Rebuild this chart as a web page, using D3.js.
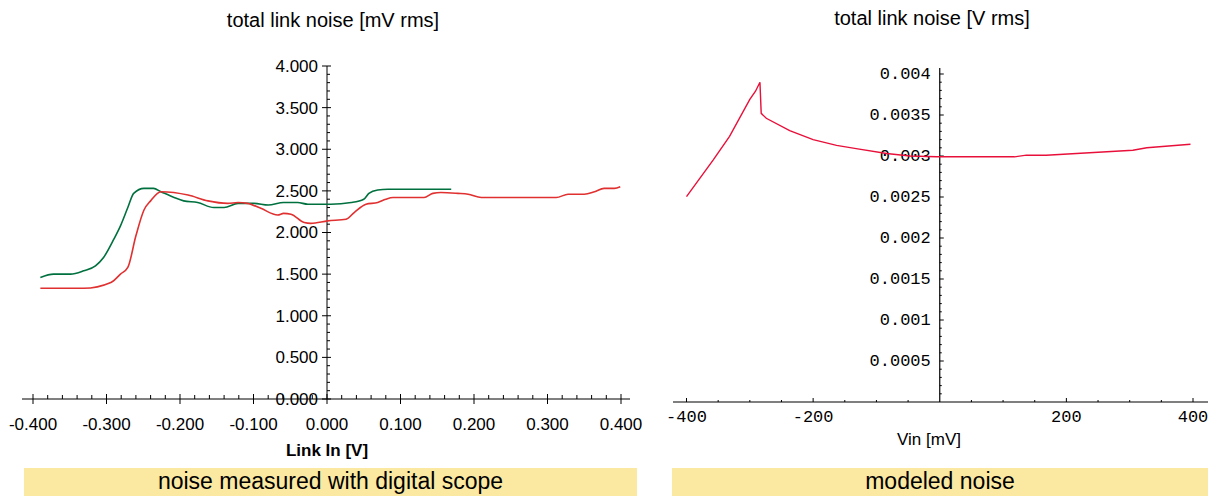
<!DOCTYPE html>
<html>
<head>
<meta charset="utf-8">
<script src="https://cdn.jsdelivr.net/npm/d3@7"></script>
<style>
  body { margin: 0; background: #fff; }
  svg { display: block; }
</style>
</head>
<body>
<script>
// measured noise (digital scope), Link In [V] vs mV rms
const greenX = [-0.390, -0.372, -0.349, -0.331, -0.315, -0.304, -0.290, -0.281, -0.271, -0.263, -0.249, -0.236, -0.226, -0.208, -0.195, -0.176, -0.154, -0.140, -0.121, -0.099, -0.080, -0.059, -0.040, -0.026, 0.005, 0.033, 0.050, 0.057, 0.069, 0.083, 0.169];
const greenY = [1.46, 1.50, 1.50, 1.54, 1.60, 1.70, 1.92, 2.08, 2.30, 2.47, 2.53, 2.53, 2.49, 2.42, 2.38, 2.36, 2.30, 2.30, 2.35, 2.35, 2.33, 2.36, 2.36, 2.34, 2.34, 2.36, 2.40, 2.47, 2.51, 2.52, 2.52];
const redX = [-0.390, -0.331, -0.294, -0.281, -0.271, -0.260, -0.249, -0.240, -0.226, -0.189, -0.162, -0.135, -0.121, -0.108, -0.090, -0.067, -0.059, -0.049, -0.031, -0.022, 0.001, 0.026, 0.037, 0.053, 0.069, 0.080, 0.090, 0.132, 0.144, 0.155, 0.178, 0.192, 0.210, 0.312, 0.328, 0.350, 0.364, 0.377, 0.391, 0.399];
const redY = [1.33, 1.33, 1.40, 1.50, 1.58, 1.96, 2.27, 2.38, 2.49, 2.45, 2.38, 2.35, 2.36, 2.35, 2.29, 2.21, 2.23, 2.22, 2.12, 2.11, 2.14, 2.16, 2.24, 2.34, 2.36, 2.40, 2.42, 2.42, 2.47, 2.48, 2.47, 2.46, 2.42, 2.42, 2.46, 2.46, 2.49, 2.53, 2.53, 2.55];
const leftXTicks = [-0.4, -0.3, -0.2, -0.1, 0, 0.1, 0.2, 0.3, 0.4];
const leftYTicks = [0, 0.5, 1, 1.5, 2, 2.5, 3, 3.5, 4];

// modeled noise, Vin [mV] vs V rms
const modelX = [-400, -358, -332, -300, -291, -284, -282, -274, -237, -200, -163, -132, -84, -47, -5, 118, 137, 168, 305, 327, 396];
const modelY = [0.002504, 0.00295, 0.00324, 0.00369, 0.00379, 0.00390, 0.00352, 0.00346, 0.00331, 0.00320, 0.00313, 0.00309, 0.00303, 0.00300, 0.00299, 0.00299, 0.00301, 0.00301, 0.00307, 0.00310, 0.003143];
const rightXTicks = [-400, -200, 200, 400];
const rightYTicks = [0.0005, 0.001, 0.0015, 0.002, 0.0025, 0.003, 0.0035, 0.004];

const svg = d3.select("body").append("svg")
    .attr("width", 1208)
    .attr("height", 496);

const sans = "Arial, 'Liberation Sans', sans-serif";
const mono = "'Courier New', 'Liberation Mono', monospace";

// ---------- left chart ----------
const xL = d3.scaleLinear().domain([-0.4, 0.4]).range([33, 621]);
const yL = d3.scaleLinear().domain([0, 4]).range([399, 66]);

const gl = svg.append("g");

// x axis line + ticks
gl.append("line").attr("x1", 22).attr("x2", 630).attr("y1", yL(0)).attr("y2", yL(0))
    .attr("stroke", "#000").attr("stroke-width", 1);
d3.range(-20, 21).forEach(i => {
    const v = i * 0.02;
    const major = i % 5 === 0;
    gl.append("line")
        .attr("x1", xL(v)).attr("x2", xL(v))
        .attr("y1", yL(0) - (major ? 5 : 4)).attr("y2", yL(0) + (major ? 5 : 0))
        .attr("stroke", "#000").attr("stroke-width", 1);
});
leftXTicks.forEach(v => {
    gl.append("text")
        .attr("x", xL(v)).attr("y", 430)
        .attr("text-anchor", "middle")
        .attr("font-family", sans).attr("font-size", "17px")
        .text(d3.format(".3f")(v).replace("−", "-"));
});

// y axis line + ticks
gl.append("line").attr("x1", xL(0)).attr("x2", xL(0)).attr("y1", yL(4)).attr("y2", yL(0))
    .attr("stroke", "#000").attr("stroke-width", 1);
d3.range(0, 41).forEach(i => {
    const v = i * 0.1;
    const major = i % 5 === 0;
    gl.append("line")
        .attr("x1", xL(0) - (major ? 5 : 0)).attr("x2", xL(0) + (major ? 4 : 3))
        .attr("y1", yL(v)).attr("y2", yL(v))
        .attr("stroke", "#000").attr("stroke-width", 1);
});
leftYTicks.forEach(v => {
    gl.append("text")
        .attr("x", xL(0) - 9).attr("y", yL(v))
        .attr("dy", "0.35em")
        .attr("text-anchor", "end")
        .attr("font-family", sans).attr("font-size", "17px")
        .text(d3.format(".3f")(v));
});

gl.append("text").attr("x", 333).attr("y", 27).attr("text-anchor", "middle")
    .attr("font-family", sans).attr("font-size", "20px").text("total link noise [mV rms]");
gl.append("text").attr("x", xL(0)).attr("y", 456).attr("text-anchor", "middle")
    .attr("font-family", sans).attr("font-size", "17px").attr("font-weight", "bold").text("Link In [V]");

const lineL = d3.line().x(d => xL(d[0])).y(d => yL(d[1])).curve(d3.curveMonotoneX);
gl.append("path").datum(greenX.map((x, i) => [x, greenY[i]]))
    .attr("d", lineL).attr("fill", "none").attr("stroke", "#00703f").attr("stroke-width", 1.6);
gl.append("path").datum(redX.map((x, i) => [x, redY[i]]))
    .attr("d", lineL).attr("fill", "none").attr("stroke", "#e03030").attr("stroke-width", 1.6);

// ---------- right chart ----------
const xR = d3.scaleLinear().domain([-400, 400]).range([686.5, 1193]);
const yR = d3.scaleLinear().domain([0, 0.004]).range([402, 74]);

const gr = svg.append("g");

gr.append("line").attr("x1", 673).attr("x2", 1208).attr("y1", yR(0)).attr("y2", yR(0))
    .attr("stroke", "#000").attr("stroke-width", 1.2);
d3.range(-8, 9).forEach(i => {
    const v = i * 50;
    if (v === 0) return;
    const major = i % 4 === 0;
    gr.append("line")
        .attr("x1", xR(v)).attr("x2", xR(v))
        .attr("y1", yR(0)).attr("y2", yR(0) - (major ? 4 : 2))
        .attr("stroke", "#000").attr("stroke-width", 1);
});
rightXTicks.forEach(v => {
    gr.append("text")
        .attr("x", xR(v)).attr("y", 422)
        .attr("text-anchor", "middle")
        .attr("font-family", mono).attr("font-size", "17px")
        .text(v < 0 ? "-" + Math.abs(v) : String(v));
});

gr.append("line").attr("x1", xR(0)).attr("x2", xR(0)).attr("y1", 68).attr("y2", yR(0))
    .attr("stroke", "#000").attr("stroke-width", 1.2);
d3.range(1, 41).forEach(i => {
    const v = i * 0.0001;
    const major = i % 5 === 0;
    gr.append("line")
        .attr("x1", xR(0)).attr("x2", xR(0) + (major ? 4 : 2))
        .attr("y1", yR(v)).attr("y2", yR(v))
        .attr("stroke", "#000").attr("stroke-width", 1);
});
rightYTicks.forEach(v => {
    gr.append("text")
        .attr("x", xR(0) - 9).attr("y", yR(v))
        .attr("dy", "0.32em")
        .attr("text-anchor", "end")
        .attr("font-family", mono).attr("font-size", "17px")
        .text(String(+v.toFixed(4)));
});

gr.append("text").attr("x", 932).attr("y", 25).attr("text-anchor", "middle")
    .attr("font-family", sans).attr("font-size", "20px").text("total link noise [V rms]");
gr.append("text").attr("x", 929).attr("y", 445).attr("text-anchor", "middle")
    .attr("font-family", sans).attr("font-size", "17px").text("Vin [mV]");

const lineR = d3.line().x(d => xR(d[0])).y(d => yR(d[1]));
gr.append("path").datum(modelX.map((x, i) => [x, modelY[i]]))
    .attr("d", lineR).attr("fill", "none").attr("stroke", "#e8103a").attr("stroke-width", 1.4);

// ---------- captions ----------
const captions = [
    { x: 24, w: 613, text: "noise measured with digital scope" },
    { x: 672, w: 536, text: "modeled noise" }
];
captions.forEach(c => {
    svg.append("rect").attr("x", c.x).attr("y", 468).attr("width", c.w).attr("height", 28)
        .attr("fill", "#fbe9a2");
    svg.append("text").attr("x", c.x + c.w / 2).attr("y", 489).attr("text-anchor", "middle")
        .attr("font-family", sans).attr("font-size", "23px").text(c.text);
});
</script>
</body>
</html>
